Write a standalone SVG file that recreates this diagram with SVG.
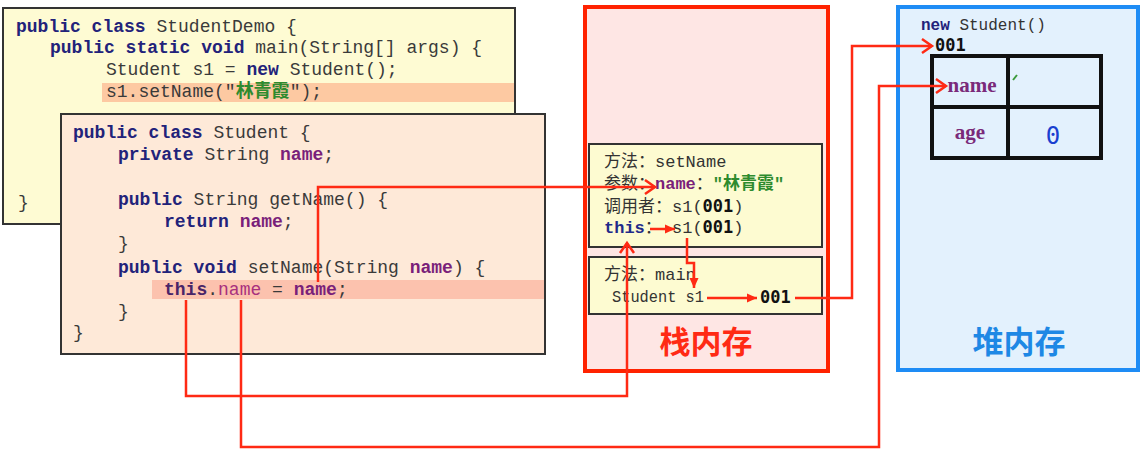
<svg xmlns="http://www.w3.org/2000/svg" width="1141" height="460" viewBox="0 0 1141 460">
<defs>
<style>
.code{font-family:"Liberation Mono","Noto Sans CJK SC",monospace;font-size:18px;fill:#3a3a3a}
.kw{font-weight:bold;fill:#22227a}
.fld{font-weight:bold;fill:#7a1f7a}
.grn{font-weight:bold;fill:#2e8b2e}
.frame{fill:#fdfbd1;stroke:#333;stroke-width:2}
.st{font-family:"Liberation Mono","Noto Sans CJK SC",monospace;font-size:17px;fill:#333}
.num{font-family:"DejaVu Sans Mono",monospace;font-weight:bold;fill:#111}
.conn{fill:none;stroke:#ff2a14;stroke-width:2.5}
.big{font-family:"Noto Sans CJK SC",sans-serif;font-weight:bold;font-size:31px;text-anchor:middle}
</style>
<marker id="chev" markerUnits="userSpaceOnUse" markerWidth="16" markerHeight="16" refX="11" refY="7" orient="auto" overflow="visible">
<path d="M1,0 L11,7 L1,14" fill="none" stroke="#ff2a14" stroke-width="2.5"/>
</marker>
<marker id="tri" markerUnits="userSpaceOnUse" markerWidth="12" markerHeight="10" refX="10" refY="4.5" orient="auto" overflow="visible">
<path d="M0,0 L10,4.5 L0,9 Z" fill="#ff2a14"/>
</marker>
</defs>
<rect width="1141" height="460" fill="#ffffff"/>

<g id="studentdemo" xml:space="preserve">
<rect x="3" y="8" width="512" height="216" fill="#fefbd3" stroke="#333" stroke-width="2"/>
<rect x="102" y="83" width="412" height="19" fill="#fdc9a2"/>
<text class="code" x="16" y="32"><tspan class="kw">public class</tspan> StudentDemo {</text>
<text class="code" x="50" y="53"><tspan class="kw">public static void</tspan> main(String[] args) {</text>
<text class="code" x="106" y="75">Student s1 = <tspan class="kw">new</tspan> Student();</text>
<text class="code" x="106" y="97">s1.setName("<tspan class="grn">林青霞</tspan>");</text>
<text class="code" x="18" y="208">}</text>
</g>

<g id="student" xml:space="preserve">
<rect x="61" y="114" width="484" height="240" fill="#fee9d8" stroke="#333" stroke-width="2"/>
<rect x="152" y="280" width="392" height="19" fill="#fcc2ae"/>
<text class="code" x="73" y="138"><tspan class="kw">public class</tspan> Student {</text>
<text class="code" x="118" y="160"><tspan class="kw">private</tspan> String <tspan class="fld">name</tspan>;</text>
<text class="code" x="118" y="205"><tspan class="kw">public</tspan> String getName() {</text>
<text class="code" x="164" y="227"><tspan class="kw">return</tspan> <tspan class="fld">name</tspan>;</text>
<text class="code" x="118" y="249">}</text>
<text class="code" x="118" y="273"><tspan class="kw">public void</tspan> setName(String <tspan class="fld">name</tspan>) {</text>
<text class="code" x="164" y="295"><tspan font-weight="bold" fill="#4a2468">this</tspan>.<tspan fill="#a8307e">name</tspan> = <tspan class="fld">name</tspan>;</text>
<text class="code" x="118" y="317">}</text>
<text class="code" x="73" y="338">}</text>
</g>

<g id="stack" xml:space="preserve">
<rect x="585" y="7" width="243" height="364" fill="#fee6e4" stroke="#ff2200" stroke-width="4"/>
<text class="big" x="706" y="353" fill="#ff2a14">栈内存</text>
</g>

<g id="frame-setName" xml:space="preserve">
<rect class="frame" x="589" y="144" width="233" height="103"/>
<text class="st" x="604" y="167">方法：setName</text>
<text class="st" x="604" y="189">参数：<tspan class="fld">name</tspan>：<tspan class="grn">"林青霞"</tspan></text>
<text class="st" x="604" y="212">调用者：s1(<tspan class="num">001</tspan>)</text>
<text class="st" x="604" y="233"><tspan font-weight="bold" fill="#1f2a8a">this</tspan>：<tspan x="672">s1(</tspan><tspan class="num">001</tspan>)</text>
</g>

<g id="frame-main" xml:space="preserve">
<rect class="frame" x="589" y="257" width="233" height="57"/>
<text class="st" x="604" y="280">方法：main</text>
<text class="st" x="612" y="302" fill="#444" textLength="92" lengthAdjust="spacingAndGlyphs">Student s1</text>
<text class="st num" x="760" y="303">001</text>
</g>

<g id="heap" xml:space="preserve">
<rect x="898" y="7" width="240" height="363" fill="#e3f1fd" stroke="#1e8cf5" stroke-width="4"/>
<text class="big" x="1019" y="353" fill="#1e88e5">堆内存</text>
</g>

<g id="student-object" xml:space="preserve">
<text x="921" y="30" font-family="Liberation Mono, monospace" font-size="16" fill="#333"><tspan font-weight="bold" fill="#22227a">new</tspan> Student()</text>
<text class="num" x="935" y="51" font-size="17">001</text>
<rect x="932" y="56" width="169" height="102" fill="none" stroke="#111" stroke-width="4"/>
<line x1="1008" y1="56" x2="1008" y2="158" stroke="#111" stroke-width="4"/>
<line x1="932" y1="107" x2="1101" y2="107" stroke="#111" stroke-width="4"/>
<text x="972" y="92" font-family="Liberation Serif, serif" font-size="21" font-weight="bold" fill="#7a2a7a" text-anchor="middle">name</text>
<text x="970" y="139" font-family="Liberation Serif, serif" font-size="21" font-weight="bold" fill="#7a2a7a" text-anchor="middle">age</text>
<text x="1053" y="144" font-family="DejaVu Sans Mono, monospace" font-size="24" fill="#1a3fd0" text-anchor="middle">0</text>
<path d="M1013,80 L1017,75" stroke="#3a9a3a" stroke-width="2" fill="none"/>
</g>

<g id="connectors">
<path class="conn" d="M318,282 V187 H655" marker-end="url(#chev)"/>
<path class="conn" d="M186,300 V396 H627 V243" marker-end="url(#chev)"/>
<path class="conn" d="M241,300 V447 H879 V86 H946" marker-end="url(#chev)"/>
<path class="conn" d="M795,298 H852 V46 H932" marker-end="url(#chev)"/>
<path class="conn" d="M650,229 H675" marker-end="url(#tri)"/>
<path class="conn" d="M687,238 V263 H694 V288" marker-end="url(#tri)"/>
<path class="conn" d="M707,298 H757" marker-end="url(#tri)"/>
</g>
</svg>
